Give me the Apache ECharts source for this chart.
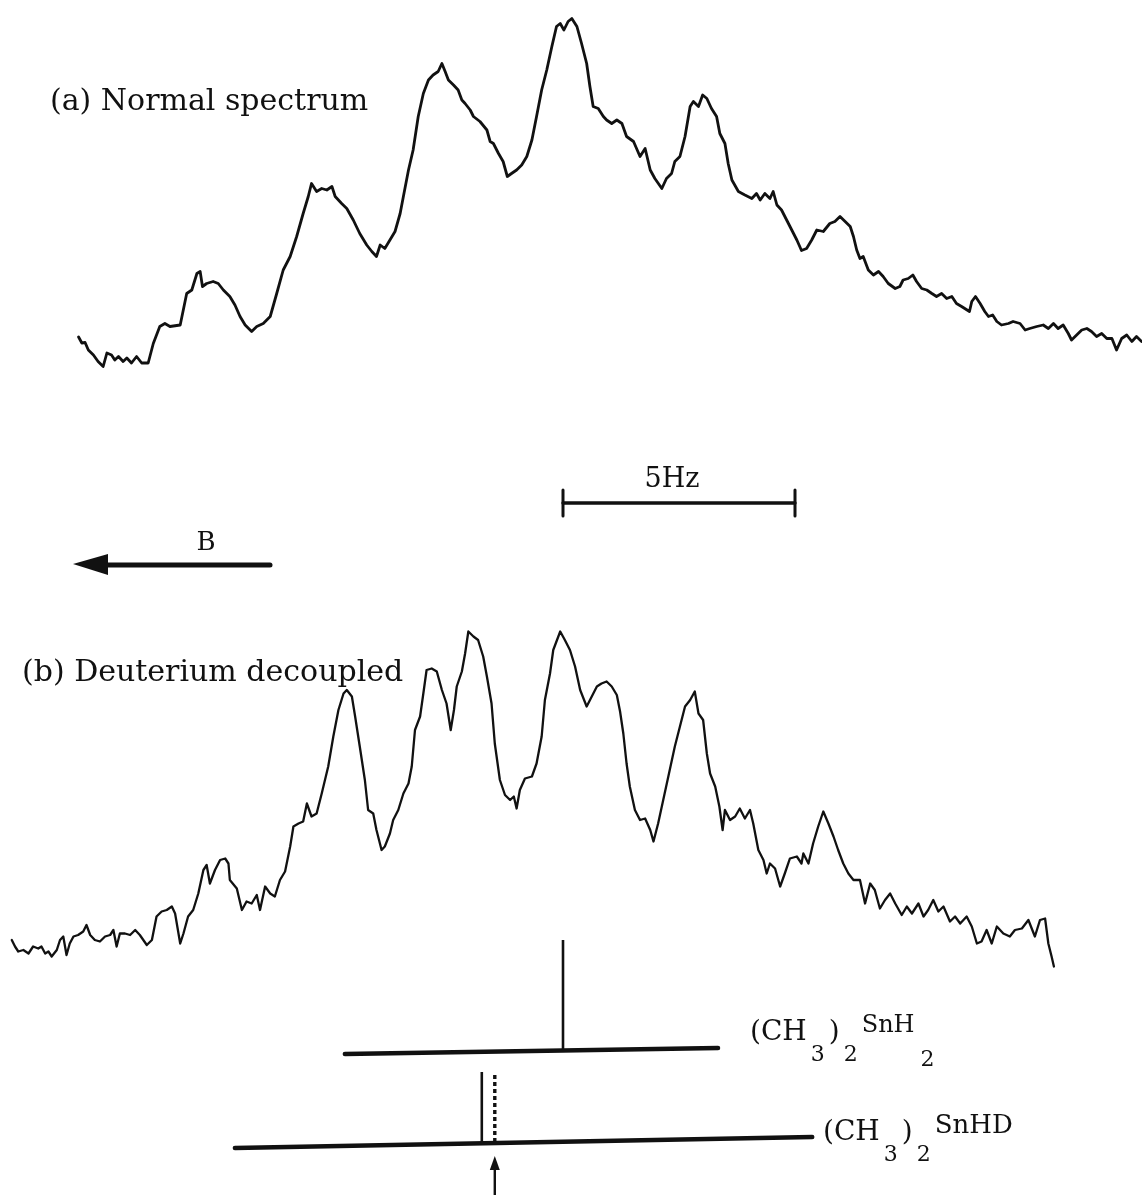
<!DOCTYPE html>
<html>
<head>
<meta charset="utf-8">
<script src="https://cdn.jsdelivr.net/npm/echarts@6/dist/echarts.min.js"></script>
<style>
  html, body { margin: 0; padding: 0; background: #ffffff; }
  #chart { width: 1142px; height: 1196px; }
</style>
</head>
<body>
<div id="chart"></div>
<script>
// Frequency offsets in Hz, measured from the (CH3)2SnH2 line; intensities in arbitrary pen units.

// (a) Normal spectrum
const freqA = [
  -10.44,-10.37,-10.30,-10.23,-10.12,-10.02,-9.91,-9.83,-9.73,-9.66,
  -9.58,-9.48,-9.40,-9.30,-9.19,-9.08,-8.94,-8.83,-8.69,-8.58,
  -8.47,-8.25,-8.11,-8.00,-7.89,-7.82,-7.77,-7.68,-7.54,-7.43,
  -7.32,-7.18,-7.07,-6.96,-6.85,-6.71,-6.60,-6.46,-6.31,-6.17,
  -6.03,-5.88,-5.74,-5.60,-5.49,-5.42,-5.31,-5.20,-5.09,-4.98,
  -4.91,-4.77,-4.66,-4.52,-4.38,-4.23,-4.12,-4.02,-3.94,-3.84,
  -3.73,-3.62,-3.51,-3.44,-3.33,-3.23,-3.12,-3.01,-2.90,-2.80,
  -2.69,-2.61,-2.54,-2.47,-2.36,-2.26,-2.18,-2.11,-2.00,-1.93,
  -1.79,-1.64,-1.57,-1.50,-1.39,-1.29,-1.20,-1.11,-1.00,-0.89,
  -0.78,-0.67,-0.57,-0.46,-0.35,-0.24,-0.14,-0.06,0.02,0.11,
  0.19,0.30,0.40,0.51,0.58,0.65,0.76,0.87,0.94,1.05,
  1.16,1.27,1.37,1.52,1.66,1.77,1.88,1.98,2.13,2.23,
  2.34,2.41,2.52,2.63,2.74,2.81,2.92,3.01,3.10,3.20,
  3.31,3.38,3.49,3.56,3.64,3.78,3.92,4.07,4.17,4.25,
  4.35,4.46,4.53,4.61,4.71,4.82,4.93,5.04,5.14,5.25,
  5.36,5.47,5.61,5.75,5.86,5.97,6.08,6.19,6.26,6.33,
  6.40,6.47,6.58,6.69,6.80,6.90,7.01,7.16,7.26,7.33,
  7.44,7.54,7.62,7.73,7.84,7.95,8.05,8.16,8.27,8.38,
  8.48,8.59,8.76,8.81,8.89,8.99,9.09,9.17,9.26,9.35,
  9.45,9.60,9.70,9.85,9.96,10.06,10.21,10.35,10.46,10.57,
  10.67,10.78,10.89,10.96,11.07,11.18,11.29,11.39,11.50,11.61,
  11.72,11.83,11.93,12.04,12.15,12.26,12.36,12.47
];
const intA = [
  6.6,5.4,5.5,4.0,3.0,1.7,0.7,3.4,3.0,2.0,
  2.7,1.7,2.4,1.4,2.7,1.4,1.4,5.3,8.7,9.3,
  8.7,9.0,15.3,16.0,19.3,19.7,16.7,17.3,17.7,17.3,
  16.0,14.7,13.0,10.7,9.0,7.7,8.7,9.3,10.7,15.3,
  20.0,22.7,26.7,31.3,34.7,37.3,35.7,36.3,36.0,36.7,
  34.7,33.3,32.3,30.0,27.3,25.0,23.7,22.7,25.0,24.3,
  26.0,27.7,31.3,34.7,40.0,44.0,50.7,55.3,58.0,59.0,
  59.7,61.3,59.7,58.0,57.0,56.0,54.0,53.3,52.0,50.7,
  49.7,48.0,45.7,45.3,43.3,41.7,38.7,39.3,40.0,41.0,
  42.7,46.0,50.7,56.0,60.0,64.7,68.7,69.3,68.0,69.7,
  70.3,68.7,65.3,61.3,56.7,52.7,52.3,50.7,50.0,49.3,
  50.0,49.3,46.7,45.7,42.7,44.3,40.0,38.3,36.3,38.3,
  39.3,41.7,42.7,46.7,52.7,53.7,52.7,55.0,54.3,52.3,
  50.7,47.3,45.3,41.3,38.0,35.7,35.0,34.3,35.3,34.0,
  35.3,34.3,35.7,33.0,32.0,30.0,28.0,26.0,23.9,24.3,
  26.0,28.0,27.7,29.3,29.7,30.7,29.7,28.7,26.7,24.0,
  22.3,22.7,20.0,19.0,19.7,18.7,17.3,16.3,16.7,18.0,
  18.3,19.0,17.7,16.3,16.0,15.3,14.7,15.3,14.3,14.7,
  13.3,12.7,11.7,13.7,14.7,13.3,11.7,10.7,11.0,9.7,
  9.0,9.3,9.7,9.3,8.0,8.3,8.7,9.0,8.3,9.3,
  8.3,9.0,7.3,6.0,7.0,8.0,8.3,7.7,6.7,7.3,
  6.3,6.3,4.0,6.3,7.0,5.7,6.7,5.7
];

// (b) Deuterium decoupled
const freqB = [
  -11.88,-11.81,-11.74,-11.63,-11.52,-11.42,-11.31,-11.24,-11.16,-11.09,
  -11.02,-10.91,-10.84,-10.77,-10.70,-10.63,-10.55,-10.45,-10.34,-10.27,
  -10.19,-10.09,-9.98,-9.87,-9.76,-9.69,-9.62,-9.55,-9.44,-9.33,
  -9.22,-9.12,-8.97,-8.86,-8.76,-8.65,-8.54,-8.43,-8.36,-8.25,
  -8.18,-8.08,-7.97,-7.86,-7.75,-7.68,-7.61,-7.50,-7.39,-7.28,
  -7.21,-7.18,-7.03,-6.92,-6.82,-6.71,-6.60,-6.53,-6.42,-6.31,
  -6.21,-6.10,-5.99,-5.88,-5.81,-5.70,-5.60,-5.52,-5.42,-5.31,
  -5.20,-5.06,-4.95,-4.84,-4.73,-4.66,-4.55,-4.48,-4.38,-4.27,
  -4.20,-4.09,-4.02,-3.91,-3.84,-3.73,-3.66,-3.55,-3.44,-3.33,
  -3.26,-3.19,-3.08,-3.01,-2.94,-2.83,-2.72,-2.61,-2.51,-2.42,
  -2.35,-2.29,-2.18,-2.11,-2.04,-1.93,-1.83,-1.72,-1.64,-1.54,
  -1.47,-1.36,-1.25,-1.14,-1.06,-1.00,-0.93,-0.82,-0.67,-0.57,
  -0.46,-0.39,-0.28,-0.21,-0.06,0.04,0.15,0.26,0.37,0.51,
  0.62,0.73,0.83,0.94,1.05,1.16,1.23,1.30,1.37,1.44,
  1.55,1.66,1.77,1.88,1.95,2.05,2.16,2.27,2.41,2.52,
  2.63,2.74,2.84,2.92,3.02,3.10,3.17,3.28,3.37,3.44,
  3.49,3.60,3.71,3.81,3.92,4.03,4.10,4.21,4.32,4.39,
  4.46,4.57,4.68,4.78,4.89,5.04,5.14,5.18,5.29,5.39,
  5.50,5.61,5.72,5.83,5.93,6.04,6.15,6.26,6.40,6.51,
  6.62,6.72,6.83,6.94,7.05,7.16,7.30,7.41,7.52,7.66,
  7.77,7.87,7.98,8.09,8.20,8.34,8.45,8.56,8.70,8.81,
  8.92,9.02,9.13,9.24,9.35,9.49,9.63,9.74,9.89,10.03,
  10.17,10.28,10.39,10.46,10.53,10.58
];
const intB = [
  5.0,3.7,2.7,3.0,2.3,3.7,3.3,3.7,2.3,2.7,
  1.7,3.0,5.0,5.7,2.0,4.3,5.7,6.0,6.7,8.0,
  6.0,5.0,4.7,5.7,6.0,7.0,3.7,6.3,6.3,6.0,
  7.0,6.0,4.0,5.0,9.7,10.7,11.0,11.7,10.3,4.3,
  6.3,9.7,11.0,14.3,19.0,20.0,16.3,19.0,21.0,21.3,
  20.3,17.0,15.3,11.0,12.7,12.3,14.0,11.0,15.7,14.3,
  13.7,17.0,18.7,23.7,27.7,28.3,28.7,32.3,29.7,30.3,
  34.3,39.7,45.7,51.0,54.3,55.0,53.7,49.7,43.7,37.0,
  31.0,30.3,27.0,23.0,23.7,26.3,29.0,31.0,34.3,36.3,
  39.7,47.0,49.7,54.3,59.0,59.3,58.7,55.0,52.3,47.0,
  51.0,55.7,58.7,62.3,66.7,65.7,65.0,61.7,57.7,52.3,
  44.3,37.0,34.0,33.0,33.7,31.3,35.0,37.3,37.7,40.3,
  45.7,53.0,58.3,63.0,66.7,65.0,63.0,59.7,55.0,51.7,
  53.7,55.7,56.3,56.7,55.7,54.0,50.7,46.3,40.3,35.7,
  31.0,29.0,29.3,27.0,24.7,28.3,33.0,37.7,43.7,47.7,
  51.7,53.0,54.7,50.3,49.0,42.3,38.3,35.7,31.7,27.0,
  31.0,29.0,29.7,31.3,29.3,31.0,28.3,23.0,21.0,18.3,
  20.3,19.3,15.7,18.3,21.3,21.7,20.3,22.3,20.3,24.3,
  27.7,30.7,28.3,25.7,23.0,20.3,18.3,17.0,17.0,12.3,
  16.3,15.0,11.3,13.0,14.3,12.3,10.0,11.7,10.3,12.3,
  9.7,11.0,13.0,10.7,11.7,8.7,9.7,8.3,9.7,7.7,
  4.3,4.7,7.0,4.3,7.7,6.3,5.7,7.0,7.3,9.0,
  5.7,9.0,9.3,4.3,1.7,-0.3
];

// Stick diagrams (Hz): baseline extent and line positions
const snh2Base = [-4.70, 3.34];
const snh2Lines = [0.00];
const snhdBase = [-7.07, 5.37];
const snhdLines = [-1.75];
const snhdDeutLines = [-1.47];
const scaleBarHz = [0, 5];

// Text
const labelA = '(a) Normal spectrum';
const labelB = '(b) Deuterium decoupled';
const scaleLabel = '5Hz';
const fieldLabel = 'B';

// ---- layout ----
const W = 1142;
const PX_PER_HZ = 46.4;
const ZERO_PX = 563;
const HZ_MIN = -ZERO_PX / PX_PER_HZ;
const HZ_MAX = (W - ZERO_PX) / PX_PER_HZ;
const INK = '#111111';
const SERIF = '"DejaVu Serif", "Liberation Serif", serif';

const chart = echarts.init(document.getElementById('chart'), null, { renderer: 'canvas' });

const xAxisBase = { type: 'value', min: HZ_MIN, max: HZ_MAX, show: false };
const yAxisBase = { type: 'value', min: 0, max: 70, show: false };

const traceStyle = (w) => ({
  type: 'line',
  symbol: 'none',
  showSymbol: false,
  clip: false,
  smooth: false,
  animation: false,
  lineStyle: { color: INK, width: w, join: 'round', cap: 'round' },
  silent: true
});

chart.setOption({
  backgroundColor: '#ffffff',
  animation: false,
  grid: [
    { left: 0, right: 0, top: 20, height: 350 },
    { left: 0, right: 0, top: 615, height: 350 }
  ],
  xAxis: [
    Object.assign({ gridIndex: 0 }, xAxisBase),
    Object.assign({ gridIndex: 1 }, xAxisBase)
  ],
  yAxis: [
    Object.assign({ gridIndex: 0 }, yAxisBase),
    Object.assign({ gridIndex: 1 }, yAxisBase)
  ],
  series: [
    Object.assign(traceStyle(2.8), {
      name: labelA, xAxisIndex: 0, yAxisIndex: 0,
      data: freqA.map((f, i) => [f, intA[i]])
    }),
    Object.assign(traceStyle(2.3), {
      name: labelB, xAxisIndex: 1, yAxisIndex: 1,
      data: freqB.map((f, i) => [f, intB[i]])
    })
  ]
});

// pixel position of a frequency on the shared Hz scale
const px = (hz) => chart.convertToPixel({ xAxisIndex: 0 }, hz);

const line = (x1, y1, x2, y2, w, extra) => ({
  type: 'line',
  shape: { x1, y1, x2, y2 },
  style: Object.assign({ stroke: INK, lineWidth: w, lineCap: 'round' }, extra || {}),
  silent: true
});
const text = (t, x, y, size, align) => ({
  type: 'text',
  x, y,
  style: {
    text: t, fill: INK, align: align || 'left', verticalAlign: 'middle',
    font: size + 'px ' + SERIF
  },
  silent: true
});
const formula = (t, x, y, supSize) => ({
  type: 'text',
  x, y,
  style: {
    text: t, fill: INK, align: 'left', verticalAlign: 'middle',
    fontFamily: SERIF, fontSize: 28,
    rich: {
      d: { fontFamily: SERIF, fontSize: 22, padding: [44, 4, 0, 4] },
      e: { fontFamily: SERIF, fontSize: 22, padding: [54, 4, 0, 6] },
      u: { fontFamily: SERIF, fontSize: supSize, padding: [0, 0, 14, 0] }
    }
  },
  silent: true
});

const g = [];

// labels
g.push(text(labelA, 50, 102, 30));
g.push(text(labelB, 22, 673, 30));

// 5 Hz scale bar
const sb0 = px(scaleBarHz[0]), sb1 = px(scaleBarHz[1]);
g.push(line(sb0, 503, sb1, 503, 3.4));
g.push(line(sb0, 490, sb0, 516, 3));
g.push(line(sb1, 490, sb1, 516, 3));
g.push(text(scaleLabel, (sb0 + sb1) / 2 - 7, 480, 27, 'center'));

// field direction arrow
g.push(line(270, 565, 100, 565, 5));
g.push({ type: 'polygon', shape: { points: [[73, 564], [108, 554], [108, 575]] }, style: { fill: INK }, silent: true });
g.push(text(fieldLabel, 206, 543, 26, 'center'));

// (CH3)2SnH2 stick diagram
g.push(line(px(snh2Base[0]), 1054, px(snh2Base[1]), 1048, 4.6));
snh2Lines.forEach(h => g.push(line(px(h), 1050, px(h), 940, 2.6, { lineCap: 'butt' })));
g.push(formula('(CH{d|3}){d|2}{u|SnH}{e|2}', 750, 1033, 24));

// (CH3)2SnHD stick diagram
g.push(line(px(snhdBase[0]), 1148, px(snhdBase[1]), 1137, 4.6));
snhdLines.forEach(h => g.push(line(px(h), 1143, px(h), 1072, 2.6, { lineCap: 'butt' })));
snhdDeutLines.forEach(h => g.push(line(px(h), 1142, px(h), 1072, 3.4, { lineCap: 'butt', lineDash: [4, 3] })));
snhdDeutLines.forEach(h => {
  const x = px(h);
  g.push(line(x, 1195, x, 1166, 2.4, { lineCap: 'butt' }));
  g.push({ type: 'polygon', shape: { points: [[x, 1156], [x - 5, 1170], [x + 5, 1170]] }, style: { fill: INK }, silent: true });
});
g.push(formula('(CH{d|3}){d|2}{u|SnHD}', 823, 1133, 26));

chart.setOption({ graphic: { elements: g } });
</script>
</body>
</html>
